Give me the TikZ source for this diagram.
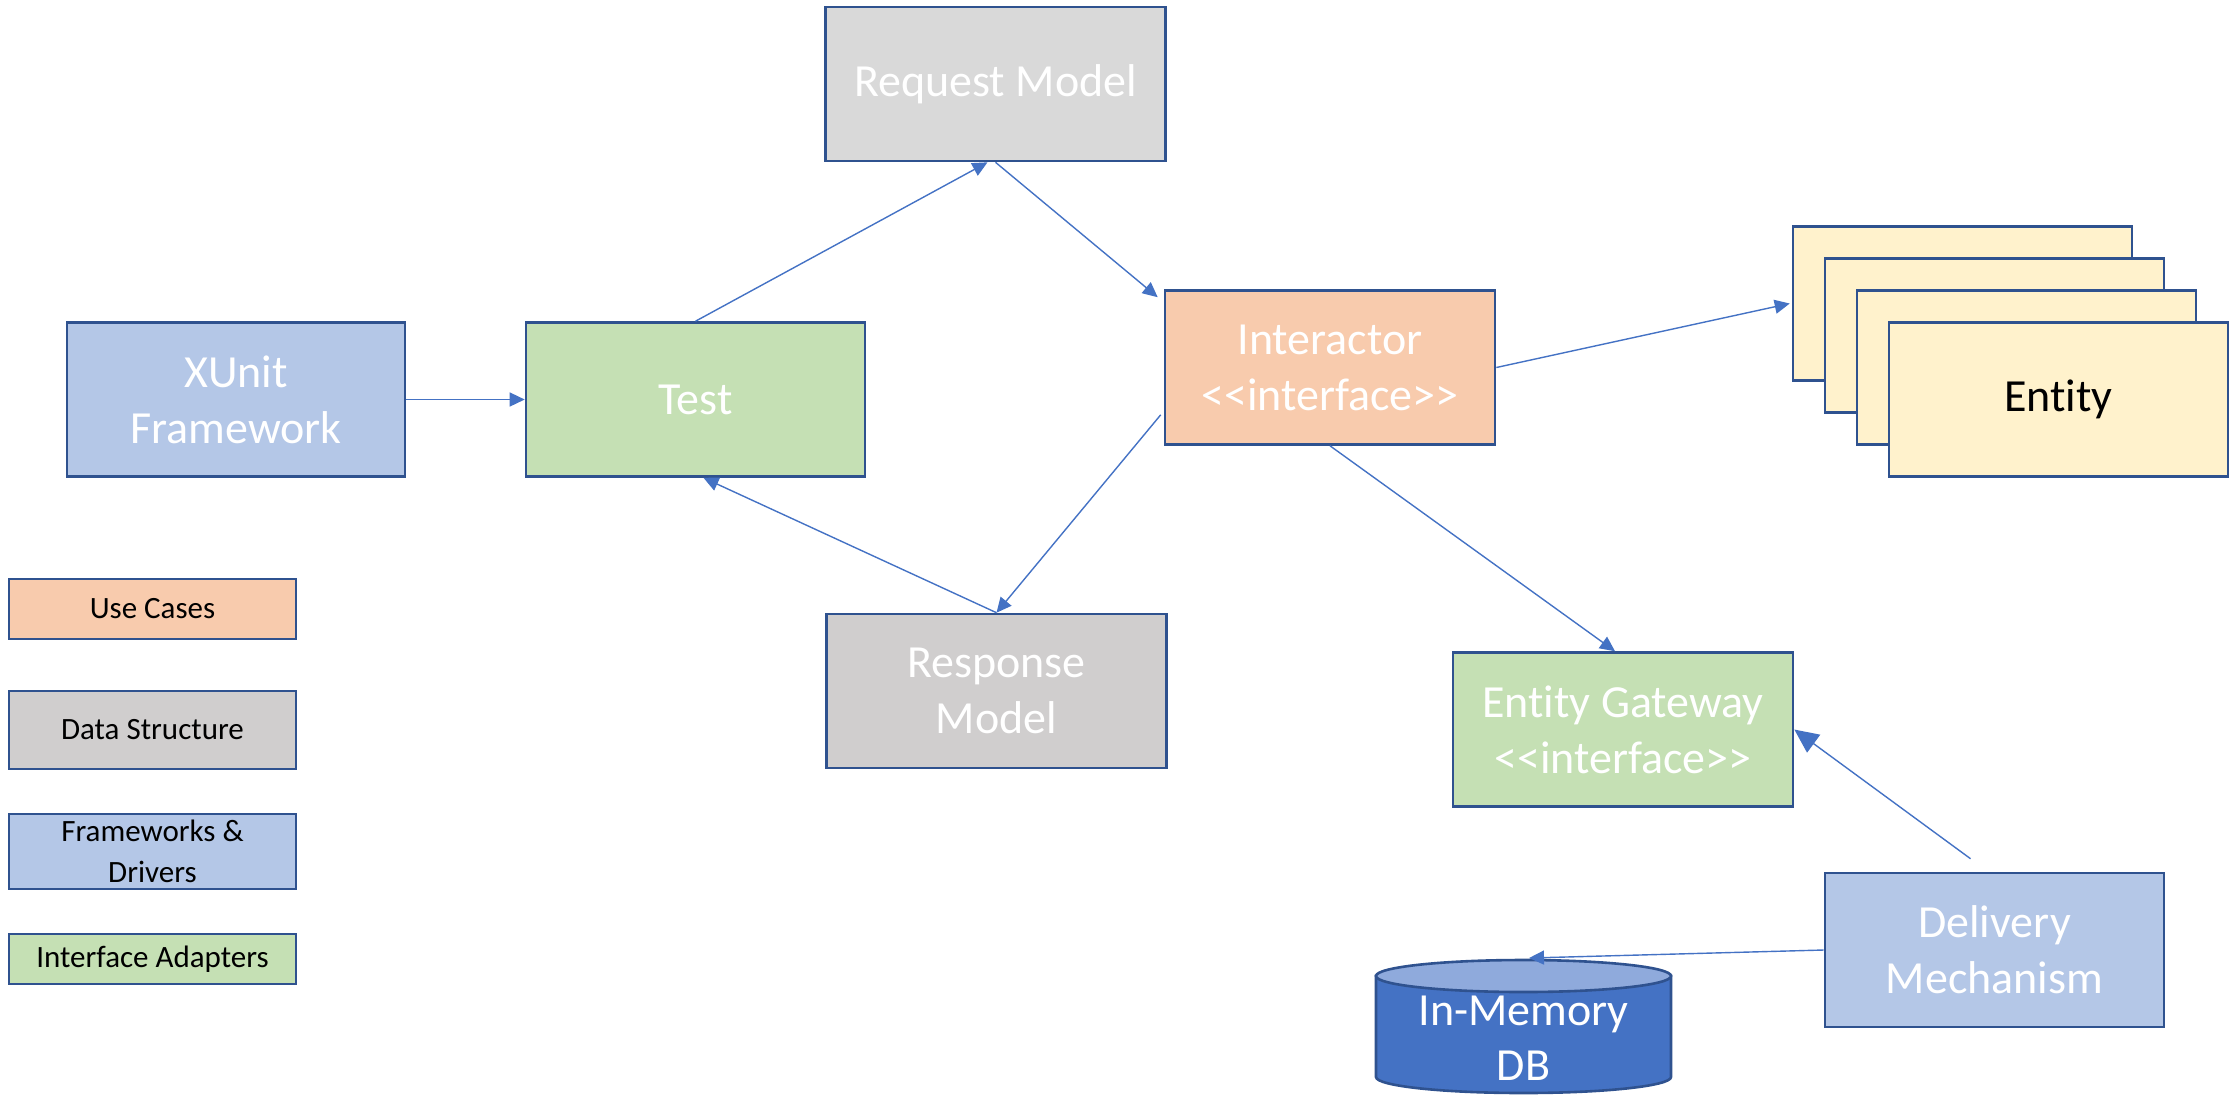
\documentclass[tikz,border=0pt]{standalone}
\usepackage{fontspec}
\setmainfont{Carlito}[Ligatures=NoCommon]
\usetikzlibrary{arrows.meta}
\definecolor{bord}{HTML}{2F528F}
\definecolor{arrowc}{HTML}{4472C4}
\definecolor{grayA}{HTML}{D9D9D9}
\definecolor{grayB}{HTML}{D0CECE}
\definecolor{orangeA}{HTML}{F8CBAD}
\definecolor{blueA}{HTML}{B4C7E7}
\definecolor{greenA}{HTML}{C5E0B4}
\definecolor{yellowA}{HTML}{FFF2CC}
\definecolor{dbbody}{HTML}{4472C4}
\definecolor{dbtopc}{HTML}{8FAADC}
\tikzset{
  box/.style={draw=bord, line width=1.3pt, inner sep=0pt, align=center,
    font=\fontsize{23}{28}\selectfont, text=white,
    minimum width=170pt, minimum height=77pt},
  legend/.style={draw=bord, line width=1.3pt, inner sep=0pt, align=center,
    font=\fontsize{15.5}{20.5}\selectfont, text=black, minimum width=143.5pt},
  conn/.style={draw=arrowc, line width=0.7pt, -{Triangle[length=7.5pt,width=7pt]}},
  bigconn/.style={draw=arrowc, line width=0.7pt, -{Triangle[length=12pt,width=11pt]}},
}
\begin{document}
\begin{tikzpicture}[x=0.5pt,y=-0.5pt]
\useasboundingbox (0,0) rectangle (2231,1094);

% main boxes
\node[box, fill=grayA] (req) at (995.5,84) {Request Model};
\node[box, fill=blueA, minimum width=169pt] (xunit) at (236,399.5) {XUnit\\Framework};
\node[box, fill=greenA, minimum width=169.5pt] (test) at (695.5,399.5) {Test};
\node[box, fill=orangeA, minimum width=165pt] (inter) at (1330,367.5) {Interactor\\{<}{<}interface{>}{>}};
\node[box, fill=grayB] (resp) at (996.5,691) {Response\\Model};
\node[box, fill=greenA] (gate) at (1623,729.5) {Entity Gateway\\{<}{<}interface{>}{>}};
\node[box, fill=blueA, minimum width=169.5pt] (deliv) at (1994.5,950) {Delivery\\Mechanism};

% entity stack
\node[box, fill=yellowA, minimum width=169.5pt] (e1) at (1962.5,303.5) {};
\node[box, fill=yellowA, minimum width=169.5pt] (e2) at (1994.5,335.5) {};
\node[box, fill=yellowA, minimum width=169.5pt] (e3) at (2026.5,367.5) {};
\node[box, fill=yellowA, minimum width=169.5pt, text=black] (e4) at (2058.5,399.5) {Entity};

% legend
\node[legend, fill=orangeA, minimum height=30pt] (uc) at (152.5,609) {Use Cases};
\node[legend, fill=grayB, minimum height=39pt] (ds) at (152.5,730) {Data Structure};
\node[legend, fill=blueA, minimum height=37.5pt] (fd) at (152.5,851.5) {Frameworks \&\\Drivers};
\node[legend, fill=greenA, minimum height=25pt] (ia) at (152.5,959) {Interface Adapters};

% database cylinder
\filldraw[fill=dbbody, draw=bord, line width=1.3pt]
  (1376,976) -- (1376,1077)
  arc[start angle=180, end angle=360, x radius=73.75pt, y radius=8pt]
  -- (1671,976) -- cycle;
\filldraw[fill=dbtopc, draw=bord, line width=1.3pt]
  (1523.5,976) ellipse[x radius=73.75pt, y radius=8pt];
\node[font=\fontsize{23}{27.5}\selectfont, text=white, align=center, inner sep=0pt]
  (db) at (1523.5,1038) {In-Memory\\DB};
\coordinate (dbtop) at (1529,958);

% connectors
\draw[conn] (xunit.east) -- (test.west);
\draw[conn] (test.north) -- ([xshift=-4pt]req.south);
\draw[conn] (req.south) -- ([xshift=-3pt,yshift=-4pt]inter.north west);
\draw[conn] (inter.east) -- ([xshift=-1pt]e1.west);
\draw[conn] ([yshift=15.5pt,xshift=-1.5pt]inter.south west) -- (resp.north);
\draw[conn] (resp.north) -- ([xshift=4pt]test.south);
\draw[conn] (inter.south) -- ([xshift=-4pt]gate.north);
\draw[bigconn] ([xshift=-12pt,yshift=6.5pt]deliv.north) -- (gate.east);
\draw[conn] (deliv.west) -- (dbtop);
\end{tikzpicture}
\end{document}
